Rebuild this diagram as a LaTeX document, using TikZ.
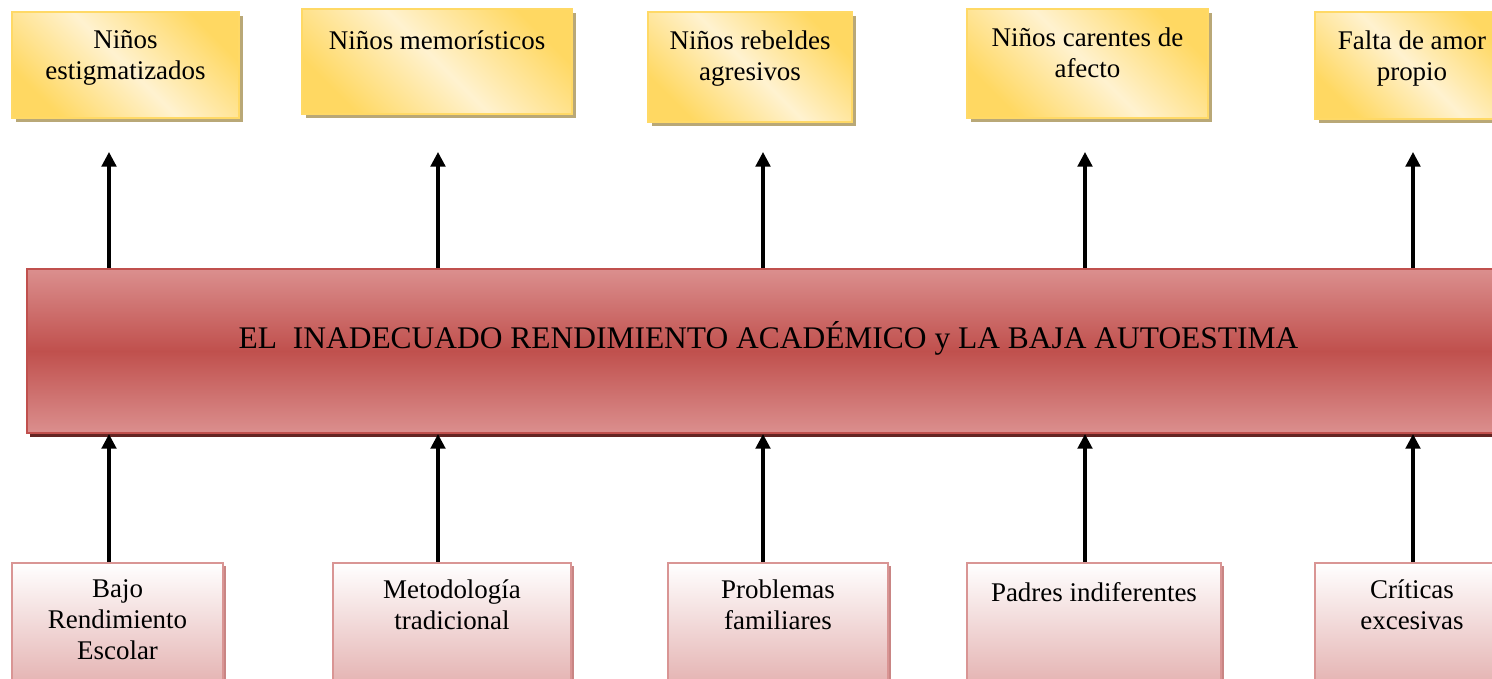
\documentclass[tikz,border=0pt]{standalone}
\usepackage{fontspec}
\setmainfont{Liberation Serif}
\usepackage{tikz}
\usetikzlibrary{arrows.meta, shadows}

\definecolor{oro}{HTML}{FFD862}
\definecolor{oroclaro}{HTML}{FFF2D0}
\definecolor{oroborde}{HTML}{FFD966}
\definecolor{sombraoro}{HTML}{B9A877}
\definecolor{rojo}{HTML}{C0504D}
\definecolor{rojoclaro}{HTML}{DB8F8E}
\definecolor{sombrarojo}{HTML}{632523}
\definecolor{rosa}{HTML}{E5B5B4}
\definecolor{rosaborde}{HTML}{D99594}
\definecolor{sombrarosa}{HTML}{C98584}

\begin{document}
\begin{tikzpicture}[x=0.445pt, y=-0.445pt]
        \tikzstyle{efecto} = [rectangle, draw=oroborde, line width=0.9pt, anchor=north west, inner sep=0pt,
            top color=oro, bottom color=oro, middle color=oroclaro, shading angle=-45,
            drop shadow={shadow xshift=1.8pt, shadow yshift=-1.8pt, fill=sombraoro, opacity=1}]
        \tikzstyle{causa} = [rectangle, draw=rosaborde, line width=0.9pt, anchor=north west, inner sep=0pt,
            top color=white, bottom color=rosa, minimum height=52.5pt,
            drop shadow={shadow xshift=1.4pt, shadow yshift=-1.4pt, fill=sombrarosa, opacity=1}]
        \tikzstyle{problema} = [rectangle, draw=rojo, line width=0.9pt, anchor=north west, inner sep=0pt,
            top color=rojoclaro, bottom color=rojoclaro, middle color=rojo, minimum width=660pt, minimum height=73pt,
            font=\fontsize{14pt}{16.8pt}\selectfont, text height=10pt, text depth=12.7pt,
            drop shadow={shadow xshift=1.4pt, shadow yshift=-1.8pt, fill=sombrarojo, opacity=1}]
        \tikzstyle{texto} = [anchor=north, align=center, inner sep=0pt, font=\fontsize{12pt}{13.8pt}\selectfont,
            execute at begin node=\strut]
        \tikzstyle{line} = [draw, line width=1.4pt, -{Triangle[length=6.5pt, width=6.5pt]}]

        \useasboundingbox (0,0) rectangle (1492,678);

        % efectos
        \node [efecto, minimum width=101pt, minimum height=47.2pt,
            label={[texto, yshift=-8.4pt]north:{Niños\\estigmatizados}}] (ef1) at (11,11) {};
        \node [efecto, minimum width=120.2pt, minimum height=46.7pt,
            label={[texto, yshift=-8.4pt]north:{Niños memorísticos}}] (ef2) at (301,8) {};
        \node [efecto, minimum width=90.8pt, minimum height=49pt,
            label={[texto, yshift=-8.4pt]north:{Niños rebeldes\\agresivos}}] (ef3) at (647,11) {};
        \node [efecto, minimum width=107.2pt, minimum height=48.5pt,
            label={[texto, yshift=-8.4pt]north:{Niños carentes de\\afecto}}] (ef4) at (966,8) {};
        \node [efecto, minimum width=86.3pt, minimum height=47.6pt,
            label={[texto, yshift=-8.4pt]north:{Falta de amor\\propio}}] (ef5) at (1314,11) {};

        % problema central
        \node [problema] (bar) at (26,268) {EL\ \ INADECUADO RENDIMIENTO ACADÉMICO y LA BAJA AUTOESTIMA};

        % causas
        \node [causa, minimum width=93.9pt,
            label={[texto, yshift=-7.7pt]north:{Bajo\\Rendimiento\\Escolar}}] (ca1) at (11,562) {};
        \node [causa, minimum width=105.9pt,
            label={[texto, yshift=-7.7pt]north:{Metodología\\tradicional}}] (ca2) at (332,562) {};
        \node [causa, minimum width=97.9pt,
            label={[texto, yshift=-7.7pt]north:{Problemas\\familiares}}] (ca3) at (667,562) {};
        \node [causa, minimum width=113pt,
            label={[texto, yshift=-7.7pt]north:{Padres indiferentes}}] (ca4) at (966,562) {};
        \node [causa, minimum width=86.3pt,
            label={[texto, yshift=-7.7pt]north:{Críticas\\excesivas}}] (ca5) at (1314,562) {};

        % puntas de las flechas de arriba
        \coordinate (t1) at (109,152);
        \coordinate (t2) at (438,152);
        \coordinate (t3) at (763,152);
        \coordinate (t4) at (1085,152);
        \coordinate (t5) at (1413,152);

        \path [line] (bar.north -| t1) -- (t1);
        \path [line] (bar.north -| t2) -- (t2);
        \path [line] (bar.north -| t3) -- (t3);
        \path [line] (bar.north -| t4) -- (t4);
        \path [line] (bar.north -| t5) -- (t5);

        \path [line] (ca1.north -| t1) -- (bar.south -| t1);
        \path [line] (ca2.north -| t2) -- (bar.south -| t2);
        \path [line] (ca3.north -| t3) -- (bar.south -| t3);
        \path [line] (ca4.north -| t4) -- (bar.south -| t4);
        \path [line] (ca5.north -| t5) -- (bar.south -| t5);
    \end{tikzpicture}
\end{document}
